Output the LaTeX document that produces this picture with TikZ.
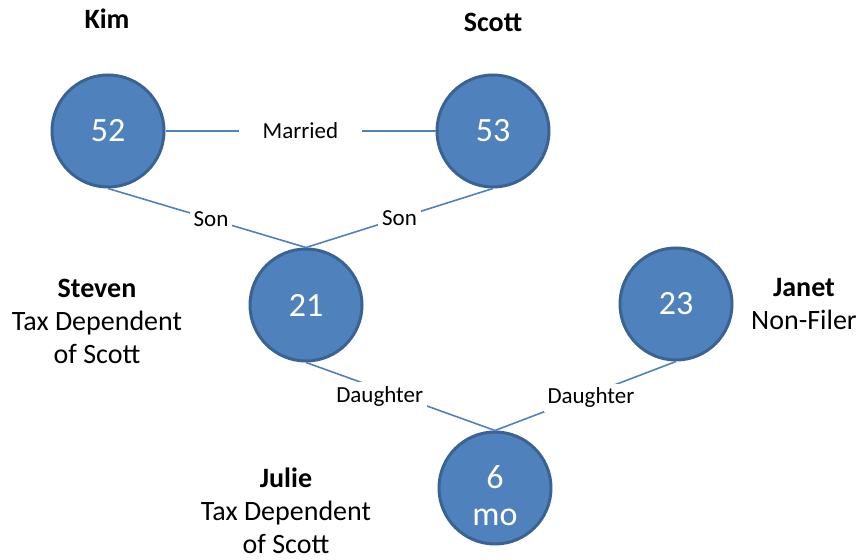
\documentclass[tikz,border=0pt]{standalone}
\usepackage{fontspec}
\setmainfont{Carlito}
\definecolor{personblue}{HTML}{4F81BD}
\definecolor{personedge}{HTML}{3A6394}
\tikzset{
    person/.style={circle, draw=personedge, fill=personblue, line width=1.5pt, minimum size=56pt, inner sep=0pt, text=white, font=\fontsize{17}{18.5}\selectfont, align=center},
    relation/.style={draw=personblue, line width=0.8pt},
    tag/.style={fill=white, inner sep=2pt, font=\fontsize{11.5}{13}\selectfont},
    who/.style={align=center, font=\fontsize{14}{16.5}\selectfont}
}
\begin{document}
\begin{tikzpicture}[x=0.5pt, y=-0.5pt]
        \useasboundingbox (0,0) rectangle (857,560);

        \node[person] (kim) at (108,131) {52};
        \node[person] (scott) at (493,131) {53};
        \node[person] (steven) at (306,305) {21};
        \node[person] (janet) at (676,304) {23};
        \node[person, label={[text=white, align=center, font=\fontsize{17}{18.5}\selectfont, yshift=-4pt]center:6\\mo}] (julie) at (495,488) {};

        \draw[relation] (kim) -- (scott) node[tag, inner xsep=12pt, pos=0.5] (married) {Married};
        \draw[relation] (kim.south) -- (steven.north) node[tag, pos=0.52] (son1) {Son};
        \draw[relation] (scott.south) -- (steven.north) node[tag, pos=0.5] (son2) {Son};
        \draw[relation] (steven.south) -- (julie.north) node[tag, pos=0.39, yshift=-3.5pt] (daughter1) {Daughter};
        \draw[relation] (janet.south) -- (julie.north) node[tag, pos=0.47, yshift=-2pt] (daughter2) {Daughter};

        \node[who] (kimname) at (107,19) {\textbf{Kim}};
        \node[who] (scottname) at (493,22) {\textbf{Scott}};
        \node[who] (stevenname) at (97,321) {\textbf{Steven}\\Tax Dependent\\of Scott};
        \node[who] (janetname) at (804,304) {\textbf{Janet}\\Non-Filer};
        \node[who] (juliename) at (286,511) {\textbf{Julie}\\Tax Dependent\\of Scott};
    \end{tikzpicture}
\end{document}
